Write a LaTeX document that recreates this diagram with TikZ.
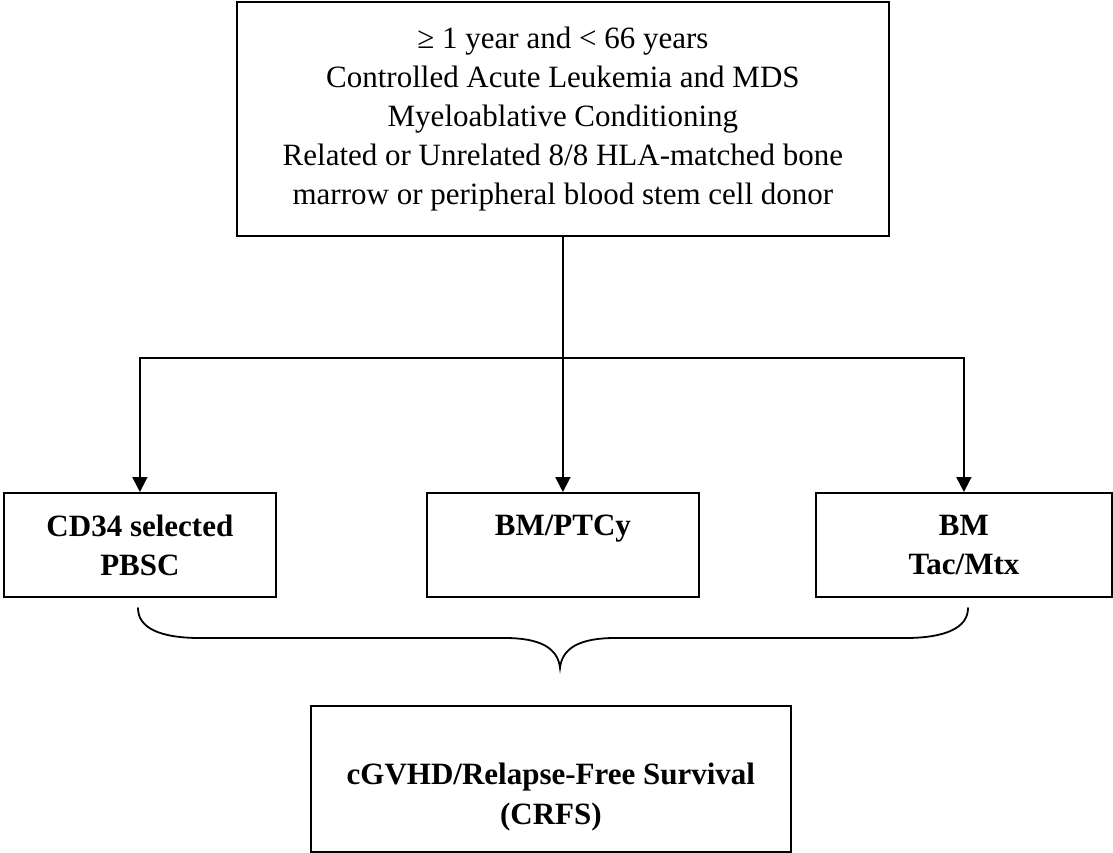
\documentclass[tikz,border=0pt]{standalone}
\usepackage{fontspec}
\setmainfont{Liberation Serif}
\usetikzlibrary{arrows.meta}

\begin{document}
\begin{tikzpicture}%
	[x=1pt, y=-1pt,
	box/.style={draw=black, line width=1.8pt, rectangle, inner sep=0pt, anchor=north west, align=center, font=\fontsize{31}{39}\selectfont},
	armbox/.style={box, minimum height=104pt, font=\fontsize{31}{39}\selectfont\bfseries},
	link/.style={line width=1.8pt, -{Triangle[width=15pt,length=15pt]}},
	bracket/.style={line width=1.8pt, line cap=round}]
	%
	\useasboundingbox (0,0) rectangle (1113,852);
	%
	%% Eligibility box
	%%
	\node[box, minimum width=652pt, minimum height=234pt] (inclusion) at (236,1)
		{≥ 1 year and < 66 years\\
		Controlled Acute Leukemia and MDS\\
		Myeloablative Conditioning\\
		Related or Unrelated 8/8 HLA-matched bone\\
		marrow or peripheral blood stem cell donor};
	%%
	%% The three arms
	%%
	\node[armbox, minimum width=272pt] (cd34) at (3,492) {CD34 selected\\PBSC};
	\node[armbox, minimum width=272pt] (ptcy) at (426,492) {BM/PTCy\\\mbox{}};
	\node[armbox, minimum width=296pt] (tacmtx) at (815,492) {BM\\Tac/Mtx};
	%%
	%% Endpoint
	%%
	\node[box, minimum width=480pt, minimum height=146pt, font=\fontsize{31}{40}\selectfont\bfseries] (crfs) at (310,705)
		{\rule{0pt}{18pt}\\cGVHD/Relapse-Free Survival\\(CRFS)};
	%%
	%% Randomisation lines
	%%
	\coordinate (fork) at (inclusion.south |- 0,358);
	\draw[link] (inclusion.south) -- (ptcy.north);
	\draw[link] (fork) -| (cd34.north);
	\draw[link] (fork) -| (tacmtx.north);
	%%
	%% Brace under the arms
	%%
	\coordinate (braceleft) at (138,608);
	\coordinate (braceright) at (968,608);
	\coordinate (bracetip) at (560,668);
	\draw[bracket] (braceleft) .. controls (138,628) and (160,638) .. (200,638)
		-- (505,638) .. controls (540,638) and (558,648) .. (bracetip)
		.. controls (562,648) and (580,638) .. (615,638)
		-- (905,638) .. controls (945,638) and (968,628) .. (braceright);
\end{tikzpicture}
\end{document}
